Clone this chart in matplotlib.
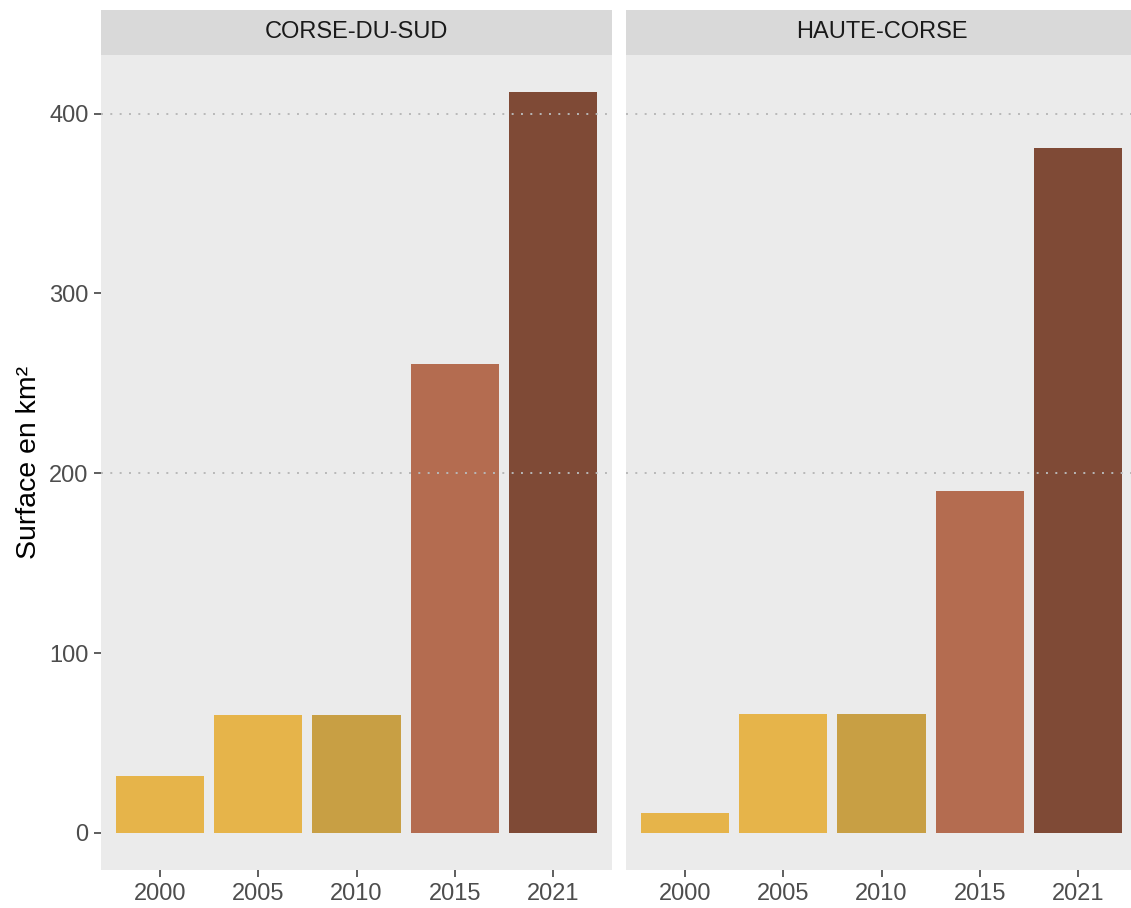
import matplotlib.pyplot as plt

plt.rcParams['font.family'] = ['Liberation Sans', 'DejaVu Sans']

# données
annees = ["2000", "2005", "2010", "2015", "2021"]
corse_du_sud = [31.7, 65.6, 65.6, 261, 412]
haute_corse = [11.1, 66.1, 66.1, 190, 381]
departements = ["CORSE-DU-SUD", "HAUTE-CORSE"]
couleurs = ["#E6B44A", "#E6B44A", "#C89F44", "#B46C50", "#7F4A36"]

W, H = 1131, 908
fig = plt.figure(figsize=(W / 100, H / 100), dpi=100)
fig.patch.set_facecolor("white")

panel_bottom = 1 - 870 / H
panel_h = (870 - 55) / H
strip_h = 45 / H
panel_w = 511 / W
lefts = [101 / W, 626 / W]

ymax = max(max(corse_du_sud), max(haute_corse))
ylim = (-0.05 * ymax, 1.05 * ymax)

for i, (nom, vals) in enumerate(zip(departements, [corse_du_sud, haute_corse])):
    ax = fig.add_axes([lefts[i], panel_bottom, panel_w, panel_h])
    ax.set_facecolor("#EBEBEB")
    x = range(len(annees))
    ax.bar(x, vals, width=0.9, color=couleurs, zorder=2)
    ax.set_xlim(-0.6, len(annees) - 0.4)
    ax.set_ylim(*ylim)
    for g in [200, 400]:
        ax.axhline(g, color="#B8B8B8", lw=1.4, ls=(0, (1, 3.8)), zorder=3)
    ax.set_xticks(list(x))
    ax.set_xticklabels(annees)
    ax.set_yticks([0, 100, 200, 300, 400])
    ax.tick_params(axis="both", colors="#333333", labelcolor="#4D4D4D",
                   labelsize=17, length=5, width=1.1, pad=4)
    for s in ax.spines.values():
        s.set_visible(False)
    if i == 0:
        ax.set_ylabel("Surface en km²", fontsize=20.5, color="black", labelpad=5)
    else:
        ax.tick_params(axis="y", left=False, labelleft=False)

    # bandeau du facet
    sax = fig.add_axes([lefts[i], panel_bottom + panel_h, panel_w, strip_h])
    sax.set_facecolor("#D9D9D9")
    sax.set_xticks([])
    sax.set_yticks([])
    for s in sax.spines.values():
        s.set_visible(False)
    sax.text(0.5, 0.5, nom, ha="center", va="center", fontsize=17,
             color="#1A1A1A", transform=sax.transAxes)

fig.savefig("out.png", dpi=100)
